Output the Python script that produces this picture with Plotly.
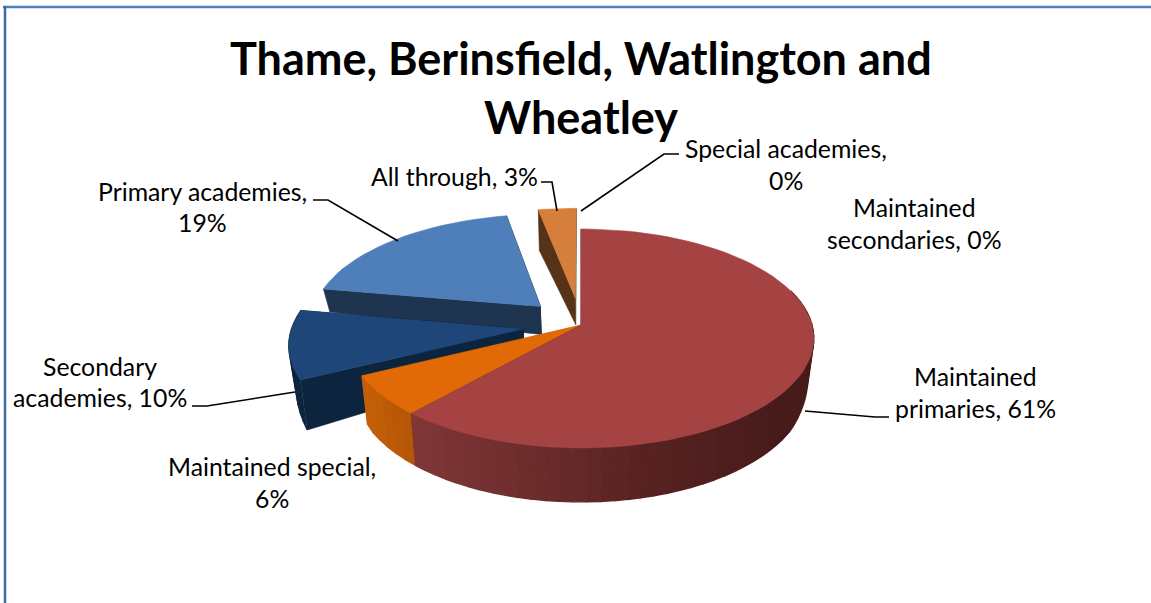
import numpy as np
import plotly.graph_objects as go

# ---- data ----
categories = ["Maintained primaries", "Maintained special", "Secondary academies",
              "Primary academies", "All through", "Special academies",
              "Maintained secondaries"]
values = [61, 6, 10, 19, 3, 0, 0]
explode = [0, 0, 0.25, 0.25, 0.25, 0, 0]
title_lines = ["Thame, Berinsfield, Watlington and", "Wheatley"]

# ---- styling ----
FONT = "Lato, 'Open Sans', sans-serif"
top_colors = ["#A54343", "#E26A06", "#1E4678", "#4E7FBA", "#D67F3C", "#D67F3C", "#999999"]
CX, CY, RX, RY, K = 581.0, 325.0, 231.0, 107.8, 0.123
SHRINK = 0.975
DV = [-1.3, -0.35, -0.175, 0.4, 0.48, 1.0, 1.3]
DD = [42, 23, 28, 47, 50, 54, 56]


def hex2rgb(c):
    return np.array([int(c[i:i + 2], 16) for i in (1, 3, 5)], float)


def wall_color(i, x):
    stops = {
        0: ([413, 640, 790], ["#813737", "#5A2323", "#461B1A"]),
        1: ([360, 413], ["#C76108", "#B35607"]),
        2: ([290, 530], ["#0D243F", "#0D243F"]),
        3: ([320, 540], ["#1F344F", "#1F344F"]),
        4: ([530, 580], ["#563317", "#563317"]),
    }
    xs, cs = stops.get(i, ([0, 1], ["#555555", "#555555"]))
    rgb = [np.interp(x, xs, [hex2rgb(c)[j] for c in cs]) for j in range(3)]
    return "rgb(%d,%d,%d)" % tuple(rgb)


def top_xy(u, v):
    w = 1 - K * v
    return CX + RX * u / w, CY + RY * v / w


def bottom_xy(u, v):
    x, y = top_xy(u, v)
    return CX + (x - CX) * SHRINK, y + np.interp(v, DV, DD)


def poly(fig, xs, ys, color, lw=0.6):
    fig.add_trace(go.Scatter(x=list(xs), y=list(ys), mode="lines", fill="toself",
                             fillcolor=color, line=dict(color=color, width=lw),
                             hoverinfo="skip", showlegend=False))


fig = go.Figure()
total = float(sum(values))
ends = np.cumsum(values) / total * 360.0
starts = np.concatenate([[0.0], ends[:-1]])

for i in [4, 3, 2, 1, 0]:
    a0, a1 = np.radians(starts[i]), np.radians(ends[i])
    mid = (a0 + a1) / 2
    ou, ov = explode[i] * np.sin(mid), -explode[i] * np.cos(mid)
    th = np.linspace(a0, a1, max(6, int(np.degrees(a1 - a0) / 3)))
    us, vs = ou + np.sin(th), ov - np.cos(th)

    # straight cut faces
    for j in (0, -1):
        p = [(ou, ov), (us[j], vs[j])]
        tx, ty = zip(*[top_xy(*q) for q in p])
        bx, by = zip(*[bottom_xy(*q) for q in p])
        poly(fig, list(tx) + list(bx)[::-1], list(ty) + list(by)[::-1], wall_color(i, tx[1]))

    # curved outer wall, in thin strips so the shade can change along it
    for j in range(len(th) - 1):
        if max(vs[j], vs[j + 1]) < -0.3:
            continue
        t0, t1 = top_xy(us[j], vs[j]), top_xy(us[j + 1], vs[j + 1])
        b0, b1 = bottom_xy(us[j], vs[j]), bottom_xy(us[j + 1], vs[j + 1])
        poly(fig, [t0[0], t1[0], b1[0], b0[0]], [t0[1], t1[1], b1[1], b0[1]],
             wall_color(i, (t0[0] + t1[0]) / 2), lw=1.4)

    # top face
    ax, ay = top_xy(ou, ov)
    rx, ry = top_xy(us, vs)
    poly(fig, [ax, *rx], [ay, *ry], top_colors[i])

# ---- text ----
ann = []


def text(x, y, s, size=24.8, bold=False):
    ann.append(dict(x=x, y=y - 1, text=("<b>%s</b>" % s) if bold else s, showarrow=False,
                    xref="x", yref="y", xanchor="center", yanchor="middle",
                    font=dict(family=FONT, size=size, color="#000000")))


text(581, 59, title_lines[0], size=45, bold=True)
text(581, 118, title_lines[1], size=45, bold=True)


def pct(i):
    return "%d%%" % values[i]


text(202, 192, categories[3] + ",")
text(202, 223, pct(3))
text(454, 177, categories[4] + ", " + pct(4))
text(786, 149, categories[5] + ",")
text(786, 181, pct(5))
text(914, 208, "Maintained")
text(914, 240, "secondaries, " + pct(6))
text(975, 377, "Maintained")
text(975, 409, "primaries, " + pct(0))
text(272, 467, categories[1] + ",")
text(272, 499, pct(1))
text(100, 367, "Secondary")
text(100, 398, "academies, " + pct(2))

# ---- leader lines and frame ----
leaders = [
    "M313,200 L328,200 L398,241",
    "M541,182 L552,182 L557,211",
    "M679,154 L664,154 L581,211",
    "M192,406 L207,406 L295,392",
    "M889,417 L875,417 L805,411",
]
shapes = [dict(type="path", path=p, line=dict(color="#000000", width=1.6),
               xref="x", yref="y") for p in leaders]
shapes += [
    dict(type="line", x0=3, x1=1151, y0=7, y1=7, line=dict(color="#4F81BD", width=2.5), xref="x", yref="y"),
    dict(type="line", x0=5, x1=5, y0=6, y1=603, line=dict(color="#3F6CA3", width=2.5), xref="x", yref="y"),
]

fig.update_layout(
    width=1151, height=603, margin=dict(l=0, r=0, t=0, b=0),
    paper_bgcolor="white", plot_bgcolor="white", showlegend=False,
    xaxis=dict(range=[0, 1151], visible=False, fixedrange=True),
    yaxis=dict(range=[603, 0], visible=False, fixedrange=True),
    annotations=ann, shapes=shapes,
)
fig.write_html("out.html", config=dict(displayModeBar=False),
               post_script="document.body.style.margin='0';document.body.style.overflow='hidden';")
